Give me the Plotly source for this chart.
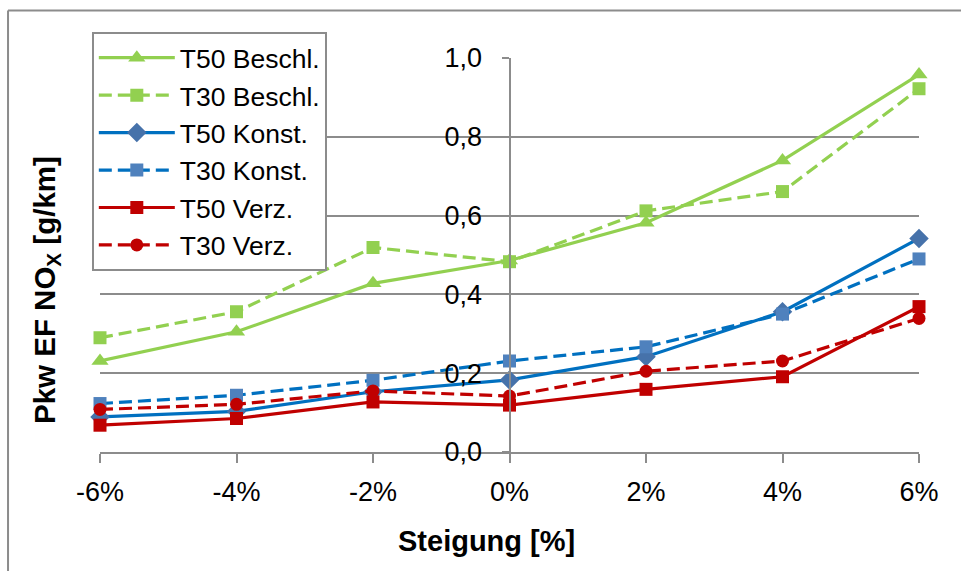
import plotly.graph_objects as go

categories = ["-6%", "-4%", "-2%", "0%", "2%", "4%", "6%"]

t50_beschl = [0.231, 0.305, 0.428, 0.486, 0.582, 0.740, 0.958]
t30_beschl = [0.290, 0.356, 0.519, 0.483, 0.612, 0.661, 0.922]
t50_konst = [0.089, 0.103, 0.153, 0.183, 0.242, 0.356, 0.542]
t30_konst = [0.123, 0.144, 0.182, 0.231, 0.267, 0.350, 0.490]
t50_verz = [0.068, 0.085, 0.127, 0.119, 0.159, 0.191, 0.369]
t30_verz = [0.108, 0.121, 0.155, 0.142, 0.205, 0.231, 0.339]

FONT = "Liberation Sans, Arial, sans-serif"
GREEN = "#92D050"
BLUE = "#0070C0"
RED = "#C00000"
GRAY = "#8C8C8C"
DASH = "13px,6px"

series = [
    ("T50 Beschl.", t50_beschl, GREEN, GREEN, "solid", "triangle-up", 15),
    ("T30 Beschl.", t30_beschl, GREEN, GREEN, DASH, "square", 13),
    ("T50 Konst.", t50_konst, BLUE, "#4672AA", "solid", "diamond", 15),
    ("T30 Konst.", t30_konst, BLUE, "#4F81BD", DASH, "square", 13),
    ("T50 Verz.", t50_verz, RED, RED, "solid", "square", 13),
    ("T30 Verz.", t30_verz, RED, RED, DASH, "circle", 13),
]

fig = go.Figure()
for name, vals, lc, mc, dash, sym, size in series:
    fig.add_trace(go.Scatter(
        x=categories, y=vals, name=name, mode="lines+markers",
        line=dict(color=lc, width=3.2, dash=dash),
        marker=dict(color=mc, symbol=sym, size=size, line=dict(width=0)),
        cliponaxis=False,
    ))

fig.update_layout(
    width=961, height=571,
    margin=dict(l=100, r=42, t=58, b=119),
    paper_bgcolor="white", plot_bgcolor="white",
    separators=",.",
    font=dict(family=FONT, size=27, color="black"),
    showlegend=True,
    legend=dict(
        x=-0.01, y=1.066, xanchor="left", yanchor="top",
        bordercolor=GRAY, borderwidth=2, bgcolor="white",
        font=dict(family=FONT, size=26.5, color="black"),
        itemwidth=76, tracegroupgap=0,
    ),
    xaxis=dict(
        type="category", range=[0, 6],
        showgrid=False, zeroline=False,
        showline=True, linecolor=GRAY, linewidth=2,
        ticks="outside", ticklen=9, tickcolor=GRAY, tickwidth=2,
        ticklabelstandoff=6,
        tickfont=dict(family=FONT, size=27),
    ),
    yaxis=dict(
        range=[0, 1.0], dtick=0.2, tick0=0, tickformat=".1f",
        anchor="free", position=0.5,
        showgrid=True, gridcolor=GRAY, gridwidth=2,
        zeroline=False,
        showline=True, linecolor=GRAY, linewidth=2,
        ticks="outside", ticklen=7, tickcolor=GRAY, tickwidth=2,
        ticklabelstandoff=14,
        tickfont=dict(family=FONT, size=27),
    ),
    annotations=[
        dict(text="Pkw EF NO<sub>X</sub> [g/km]", xref="paper", yref="paper",
             x=-0.066, y=0.411, xanchor="center", yanchor="middle",
             textangle=-90, showarrow=False,
             font=dict(family=FONT, size=29.5, color="black", weight="bold")),
        dict(text="Steigung [%]", xref="paper", yref="paper",
             x=0.4725, y=-0.226, xanchor="center", yanchor="middle",
             showarrow=False,
             font=dict(family=FONT, size=29, color="black", weight="bold")),
    ],
    shapes=[
        dict(type="line", xref="paper", yref="paper",
             x0=-0.1123, x1=-0.1123, y0=1.1206, y1=-0.33,
             line=dict(color=GRAY, width=2)),
        dict(type="line", xref="paper", yref="paper",
             x0=-0.1123, x1=1.07, y0=1.1206, y1=1.1206,
             line=dict(color=GRAY, width=2)),
    ],
)

fig.write_html("out.html")
